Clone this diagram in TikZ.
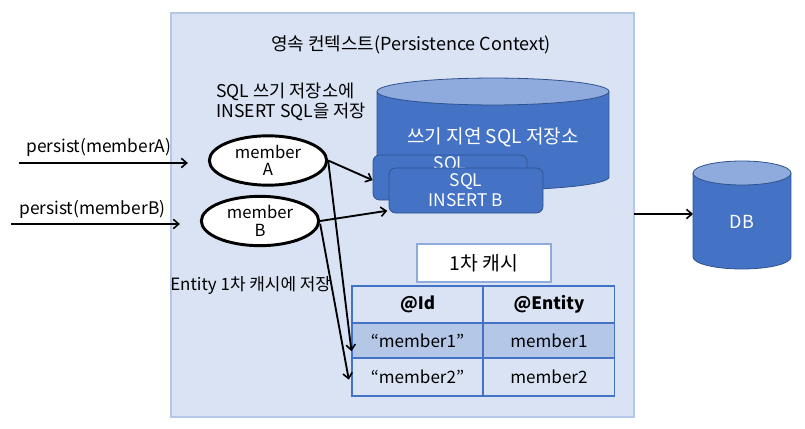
\documentclass[tikz,border=0pt]{standalone}
\usepackage{fontspec}
\setmainfont{Noto Sans CJK KR}
\usetikzlibrary{shapes.geometric,arrows.meta}
\definecolor{bgblue}{HTML}{DAE3F3}
\definecolor{bgborder}{HTML}{B4C7E7}
\definecolor{cylblue}{HTML}{4472C4}
\definecolor{cyltop}{HTML}{8FAADC}
\definecolor{cylline}{HTML}{2F528F}
\definecolor{rowblue}{HTML}{B4C7E7}
\definecolor{tabline}{HTML}{4472C4}
\definecolor{cachebd}{HTML}{8FAADC}
\tikzset{
  txt/.style={font=\fontsize{13}{15}\selectfont, inner sep=0pt, align=center},
  memb/.style={ellipse, draw=black, line width=2.2pt, fill=white, inner sep=0pt,
     minimum width=88pt, minimum height=37pt, align=center,
     font=\fontsize{12.5}{13}\selectfont},
  sqlbox/.style={rectangle, rounded corners=5pt, draw=cylline, line width=0.6pt,
     fill=cylblue, text=white, inner sep=0pt, align=center,
     font=\fontsize{13}{15}\selectfont},
  cell/.style={rectangle, draw=tabline, line width=0.8pt, inner sep=0pt,
     minimum width=98.25pt, minimum height=27.75pt, font=\fontsize{12.8}{14}\selectfont},
  arr/.style={line width=1.4pt, -{Straight Barb[length=4pt,width=7pt,line width=1.2pt]}},
}
\begin{document}
\begin{tikzpicture}[x=0.75pt,y=-0.75pt]
\useasboundingbox (0,0) rectangle (805,428);
\fill[white] (0,0) rectangle (805,428);
% persistence context box
\draw[bgborder, fill=bgblue, line width=1.6pt] (171,13) rectangle (634,417);
\node[txt, font=\fontsize{13.5}{15}\selectfont] (title) at (411,45) {영속 컨텍스트(Persistence Context)};
\node[txt, align=left, anchor=west, font=\fontsize{13.2}{15}\selectfont] (sqlnote) at (216,102) {SQL 쓰기 저장소에\\INSERT SQL을 저장};
% write-behind SQL store cylinder
\fill[cylblue] (377,91.5) rectangle (609,177);
\fill[cylblue] (493,177) ellipse [x radius=87pt, y radius=9.75pt];
\draw[cylline, line width=0.6pt] (377,91.5) -- (377,177) arc[start angle=180, end angle=360, x radius=87pt, y radius=9.75pt] -- (609,91.5);
\draw[cylline, fill=cyltop, line width=0.6pt] (493,91.5) ellipse [x radius=87pt, y radius=10.1pt];
\node[txt, text=white, font=\fontsize{14.3}{16}\selectfont] (store) at (493,137) {쓰기 지연 SQL 저장소};
% SQL boxes
\node[sqlbox, minimum width=115.5pt, minimum height=33.75pt] (sqlA) at (450,177.5) {};
\node[sqlbox, draw=none, anchor=north, text height=9.5pt] (sqlAtxt) at (450,156.5) {SQL};
\node[sqlbox, minimum width=115.5pt, minimum height=33.75pt] (sqlB) at (466,190.5) {SQL\\INSERT B};
% members
\node[memb] (A) at (268,160.5) {member\\A};
\node[memb] (B) at (260,221) {member\\B};
\coordinate (pa) at (19,163);
\coordinate (pb) at (11,224);
\node[txt, anchor=south west] (pA) at (26,157) {persist(memberA)};
\node[txt, anchor=south west] (pB) at (19,219) {persist(memberB)};
% cache label
\node[txt, draw=cachebd, line width=0.8pt, fill=white, minimum width=100.5pt, minimum height=28.5pt, font=\fontsize{14.5}{16}\selectfont] (cache) at (484,263) {1차 캐시};
\node[txt, anchor=west, font=\fontsize{12.7}{14}\selectfont] (entnote) at (170,285) {Entity 1차 캐시에 저장};
% table
\node[cell, fill=bgblue, font=\fontsize{12.8}{14}\selectfont\bfseries] (h1) at (417.5,304.5) {@Id};
\node[cell, fill=bgblue, font=\fontsize{12.8}{14}\selectfont\bfseries] (h2) at (549,304.5) {@Entity};
\node[cell, fill=rowblue, minimum height=26.25pt] (r11) at (417.5,340.5) {“member1”};
\node[cell, fill=rowblue, minimum height=26.25pt] (r12) at (549,340.5) {member1};
\node[cell, fill=bgblue, minimum height=28.5pt] (r21) at (417.5,377) {“member2”};
\node[cell, fill=bgblue, minimum height=28.5pt] (r22) at (549,377) {member2};
% DB
\fill[cylblue] (693,173) rectangle (791,257);
\fill[cylblue] (742,257) ellipse [x radius=36.75pt, y radius=9pt];
\draw[cylline, line width=0.6pt] (693,173) -- (693,257) arc[start angle=180, end angle=360, x radius=36.75pt, y radius=9pt] -- (791,173);
\draw[cylline, fill=cyltop, line width=0.6pt] (742,173) ellipse [x radius=36.75pt, y radius=9pt];
\node[txt, text=white, font=\fontsize{13.5}{15}\selectfont] (DB) at (742,222) {DB};
\coordinate (dbl) at (693,214);
\coordinate (ctxr) at (634,214);
% connectors
\draw[arr] (pa) -- ([xshift=-15]A.west |- pa);
\draw[arr] (pb) -- ([xshift=-15]B.west |- pb);
\draw[arr] (A.east) -- ([yshift=-2]sqlA.west);
\draw[arr] (B.east) -- ([xshift=-1,yshift=2]sqlB.south west);
\draw[arr] (A.east) -- ([yshift=-8]r11.west);
\draw[arr] ([yshift=-2]B.east) -- ([xshift=-2,yshift=-2]r21.west);
\draw[arr] (ctxr) -- (dbl);
\end{tikzpicture}
\end{document}
